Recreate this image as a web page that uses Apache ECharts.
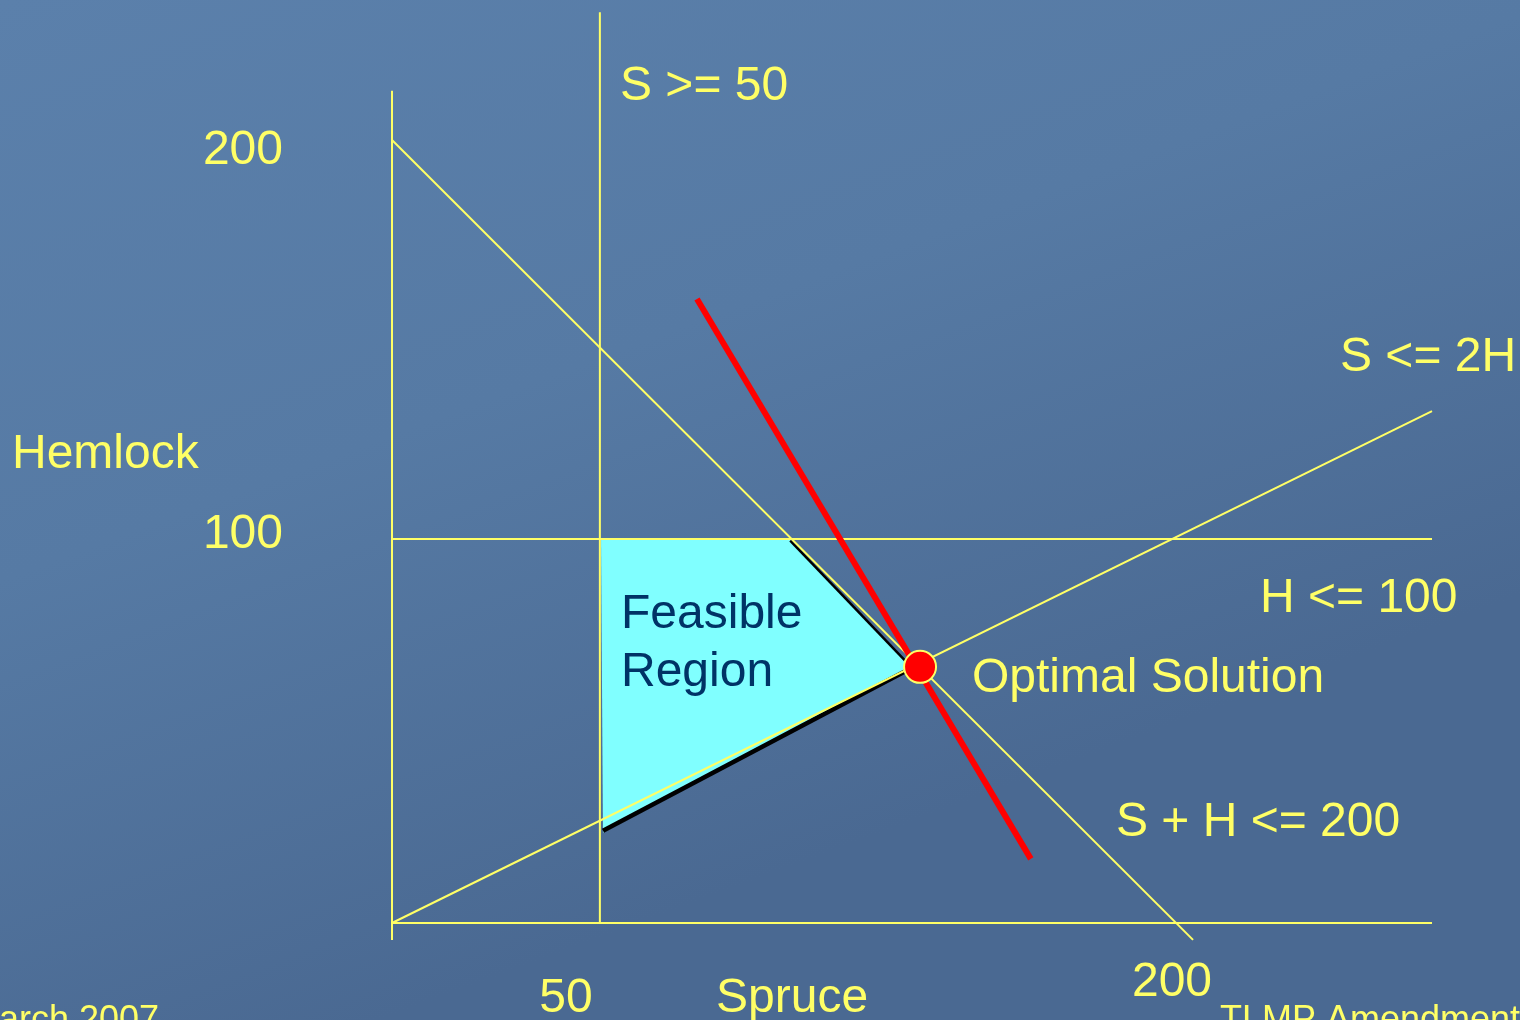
<!DOCTYPE html>
<html>
<head>
<meta charset="utf-8">
<script src="https://cdn.jsdelivr.net/npm/echarts@6/dist/echarts.min.js"></script>
<style>
html,body{margin:0;padding:0;width:1520px;height:1020px;overflow:hidden;}
#chart{width:1520px;height:1020px;}
</style>
</head>
<body>
<div id="chart"></div>
<script>
// ---- data (Spruce = S on x, Hemlock = H on y) ----
const xAxisLine = [[0, 0], [266.67, 0]];
const yAxisLine = [[0, -4.4], [0, 216.7]];
const sMinLine = [[53.3, 0], [53.3, 237.2]];          // S >= 50
const hMaxLine = [[0, 100], [266.67, 100]];           // H <= 100
const sumLine = [[0, 203.9], [205.4, -4.4]];          // S + H <= 200
const ratioLine = [[0, 0], [266.67, 133.3]];          // S <= 2H
const objectiveLine = [[78.2, 162.5], [163.8, 16.7]];
const optimalPoint = [[135.4, 66.7]];
const feasibleRegion = [[53.6, 100], [102.1, 100], [131.5, 68.5], [131.5, 65.4], [54.1, 23.5]];
const shadowBottom = [[54.1, 24.0], [131.5, 65.5]];
const shadowRight = [[102.1, 99.6], [131.5, 68.4]];
const xTicks = [50, 200];
const yTicks = [100, 200];

const YEL = '#FFFF66';
const FONT = '48px "Liberation Sans", Arial, sans-serif';
const chart = echarts.init(document.getElementById('chart'));

function seg(name, data, color, width, z) {
  return {
    name: name, type: 'line', data: data, symbol: 'none', clip: false,
    lineStyle: { color: color, width: width }, z: z, silent: true, animation: false
  };
}

const txt = (s, left, cy, color) => ({
  type: 'text', left: left, top: cy - 21.6, z: 100,
  style: { text: s, fill: color, font: FONT }
});

const option = {
  animation: false,
  backgroundColor: {
    type: 'linear', x: 0, y: 0, x2: 0.25, y2: 1,
    colorStops: [
      { offset: 0, color: '#5b80ab' },
      { offset: 0.5, color: '#567aa4' },
      { offset: 1, color: '#4a6992' }
    ]
  },
  grid: { left: 392, top: 1.4, width: 1040, height: 960 },
  xAxis: { type: 'value', min: 0, max: 1040 / 3.9, show: false },
  yAxis: { type: 'value', min: -10, max: 240, show: false },
  series: [
    {
      type: 'custom', name: 'Feasible Region', z: 1, clip: false, silent: true,
      data: [0],
      renderItem: function (params, api) {
        const pts = feasibleRegion.map(p => api.coord(p));
        return { type: 'polygon', shape: { points: pts }, style: { fill: '#80FFFF' } };
      }
    },
    seg('shadowBottom', shadowBottom, '#000000', 4.5, 2),
    seg('shadowRight', shadowRight, '#000000', 2.5, 2),
    seg('xAxis', xAxisLine, YEL, 2, 3),
    seg('yAxis', yAxisLine, YEL, 2, 3),
    seg('S >= 50', sMinLine, YEL, 2, 3),
    seg('H <= 100', hMaxLine, YEL, 2, 3),
    seg('S + H <= 200', sumLine, YEL, 2, 3),
    seg('S <= 2H', ratioLine, YEL, 2, 3),
    seg('Objective', objectiveLine, '#FF0000', 6, 4),
    {
      type: 'scatter', name: 'Optimal Solution', data: optimalPoint, symbol: 'circle',
      symbolSize: 32, z: 5, silent: true,
      itemStyle: { color: '#FF0000', borderColor: YEL, borderWidth: 2, opacity: 1 }
    }
  ],
  graphic: [
    txt('S >= 50', 620, 84, YEL),
    txt('S <= 2H', 1340, 355, YEL),
    txt('H <= 100', 1260, 596, YEL),
    txt('Optimal Solution', 972, 676, YEL),
    txt('S + H <= 200', 1116, 820, YEL),
    txt('Hemlock', 12, 452, YEL),
    txt('Spruce', 716, 996, YEL),
    txt('Feasible', 621, 612, '#003366'),
    txt('Region', 621, 670, '#003366'),
    {
      type: 'text', left: -31, top: 1003, z: 100,
      style: {
        text: 'March 2007', fill: YEL, font: '36px "Liberation Sans", Arial, sans-serif',
        shadowColor: '#000', shadowOffsetX: 2, shadowOffsetY: 2, shadowBlur: 0
      }
    },
    {
      type: 'text', left: 1220, top: 1003, z: 100,
      style: {
        text: 'TLMP Amendment', fill: YEL, font: '36px "Liberation Sans", Arial, sans-serif',
        shadowColor: '#000', shadowOffsetX: 2, shadowOffsetY: 2, shadowBlur: 0
      }
    }
  ]
};
chart.setOption(option);

// tick labels placed through the axis scales
const tickGraphics = [];
const xOffsets = { 50: [-21, 76], 200: [0, 60] };
xTicks.forEach(v => {
  const p = chart.convertToPixel({ gridIndex: 0 }, [v, 0]);
  const o = xOffsets[v];
  tickGraphics.push({
    type: 'text', x: p[0] + o[0], y: p[1] + o[1], z: 100,
    style: { text: String(v), fill: YEL, font: FONT, align: 'center', verticalAlign: 'middle' }
  });
});
yTicks.forEach(v => {
  const p = chart.convertToPixel({ gridIndex: 0 }, [0, v]);
  tickGraphics.push({
    type: 'text', x: p[0] - 109, y: p[1] - 4, z: 100,
    style: { text: String(v), fill: YEL, font: FONT, align: 'right', verticalAlign: 'middle' }
  });
});
chart.setOption({ graphic: option.graphic.concat(tickGraphics) }, { replaceMerge: ['graphic'] });
</script>
</body>
</html>
